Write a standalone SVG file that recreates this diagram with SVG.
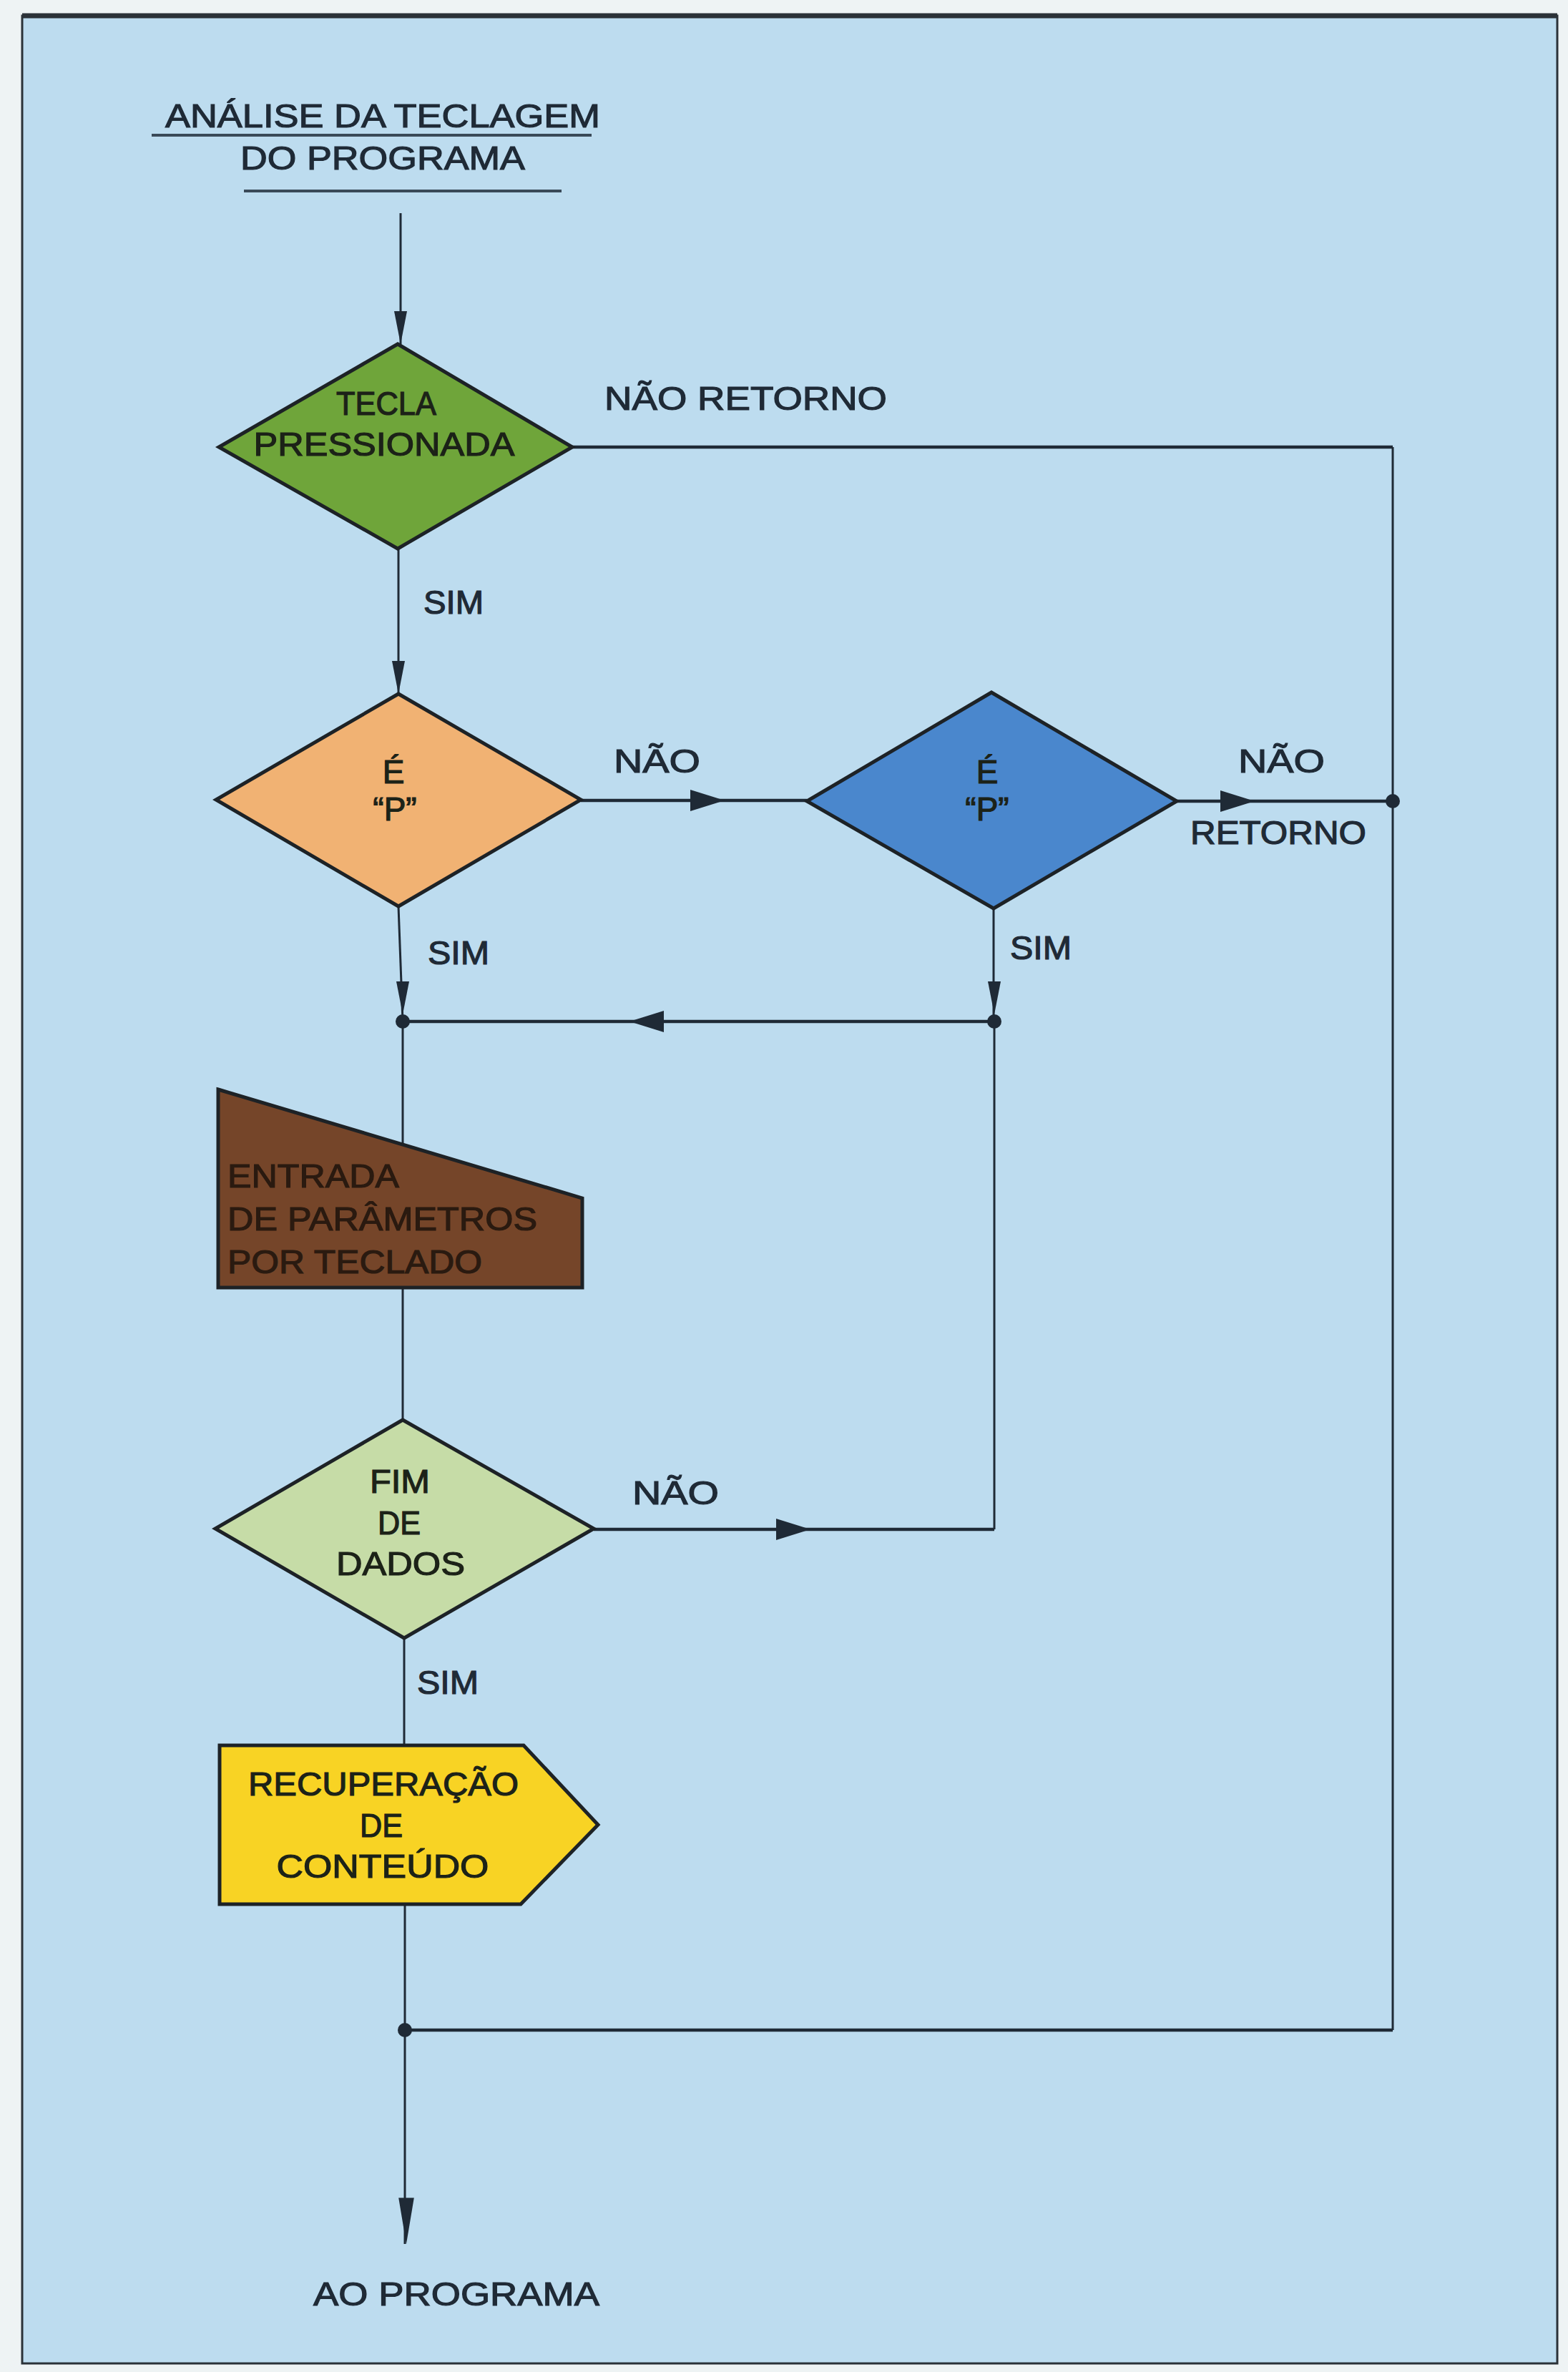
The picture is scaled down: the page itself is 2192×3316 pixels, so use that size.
<svg xmlns="http://www.w3.org/2000/svg" width="2192" height="3316" viewBox="0 0 2192 3316">
<style>
.t{font-family:"Liberation Sans",Arial,sans-serif;font-size:46px;fill:#1f2a36;stroke:#1f2a36;stroke-width:1.2}
.n{font-family:"Liberation Sans",Arial,sans-serif;font-size:46px;fill:#1c2218;stroke:#1c2218;stroke-width:1.2}
.b{fill:#2a1a10;stroke:#2a1a10}
.c{text-anchor:middle}
.shape{stroke:#1d2226;stroke-width:5;stroke-linejoin:miter}
.v{stroke:#1f2a36;stroke-width:3;fill:none}
.h{stroke:#1f2a36;stroke-width:4.5;fill:none}
.u{stroke:#3a4a58;stroke-width:4;fill:none}
.ar{fill:#1f2a36}
</style>
<defs>
<path id="ah" d="M0,0 L-48,-15 L-48,15 Z"/>
<path id="av" d="M0,0 L-46,-9 L-46,9 Z"/>
<circle id="dot" r="10"/>
</defs>
<rect x="0" y="0" width="2192" height="3316" fill="#eef3f4"/>
<rect id="frame" x="31" y="22" width="2146" height="3282" fill="#bddcef" stroke="#2b3238" stroke-width="3"/>
<line x1="31" y1="22" x2="2177" y2="22" stroke="#2b3238" stroke-width="7"/>

<g id="title">
<text class="t" x="231" y="178" textLength="608" lengthAdjust="spacingAndGlyphs" font-size="44">ANÁLISE DA TECLAGEM</text>
<text class="t" x="336" y="237" textLength="398" lengthAdjust="spacingAndGlyphs" font-size="44">DO PROGRAMA</text>
<path class="u" d="M212,189 H827 M341,267 H785"/>
</g>

<g id="connectors">
<path class="v" d="M560,298 V481"/>
<use href="#av" class="ar" transform="translate(560,481) rotate(90)"/>
<path class="h" d="M800,625 H1947"/>
<path class="v" d="M1947,625 V2838"/>
<path class="v" d="M557,767 V970"/>
<use href="#av" class="ar" transform="translate(557,970) rotate(90)"/>
<path class="h" d="M812,1119 H1128"/>
<use href="#ah" class="ar" transform="translate(1013,1119)"/>
<path class="h" d="M1645,1120 H1947"/>
<use href="#ah" class="ar" transform="translate(1754,1120)"/>
<use href="#dot" class="ar" x="1947" y="1120"/>
<path class="v" d="M557,1267 L563,1428"/>
<use href="#av" class="ar" transform="translate(563,1418) rotate(90)"/>
<path class="v" d="M1389,1270 V1428"/>
<use href="#av" class="ar" transform="translate(1390,1418) rotate(90)"/>
<path class="h" d="M1390,1428 H563"/>
<use href="#ah" class="ar" transform="translate(880,1428) rotate(180)"/>
<use href="#dot" class="ar" x="563" y="1428"/>
<use href="#dot" class="ar" x="1390" y="1428"/>
<path class="v" d="M563,1428 V1600"/>
<path class="v" d="M563,1800 V1985"/>
<path class="h" d="M830,2138 H1390"/>
<path class="v" d="M1390,2138 V1428"/>
<use href="#ah" class="ar" transform="translate(1133,2138)"/>
<path class="v" d="M565,2290 V2440"/>
<path class="v" d="M566,2662 V3137"/>
<path class="h" d="M1947,2838 H566"/>
<use href="#dot" class="ar" x="566" y="2838"/>
<use href="#av" class="ar" transform="translate(568,3137) rotate(90) scale(1.4,1.2)"/>
</g>

<g id="tecla">
<polygon class="shape" points="556,481 800,625 556,767 306,625" fill="#6fa53a"/>
<text class="n c" x="540" y="580" textLength="140" lengthAdjust="spacingAndGlyphs" font-size="48">TECLA</text>
<text class="n c" x="537" y="637" textLength="365" lengthAdjust="spacingAndGlyphs" font-size="48">PRESSIONADA</text>
</g>

<g id="ep1">
<polygon class="shape" points="557,970 812,1118 557,1267 302,1118" fill="#f1b273"/>
<text class="n c" x="550" y="1095" font-size="44">É</text>
<text class="n c" x="552" y="1147" font-size="44">“P”</text>
</g>

<g id="ep2">
<polygon class="shape" points="1386,968 1645,1120 1389,1270 1128,1120" fill="#4a87cd"/>
<text class="n c" x="1380" y="1095" font-size="44">É</text>
<text class="n c" x="1380" y="1147" font-size="44">“P”</text>
</g>

<g id="entrada">
<polygon class="shape" points="305,1523 814,1675 814,1800 305,1800" fill="#754529"/>
<text class="n b" x="318" y="1660" textLength="240" lengthAdjust="spacingAndGlyphs" font-size="45">ENTRADA</text>
<text class="n b" x="318" y="1720" textLength="433" lengthAdjust="spacingAndGlyphs" font-size="45">DE PARÂMETROS</text>
<text class="n b" x="318" y="1780" textLength="356" lengthAdjust="spacingAndGlyphs" font-size="45">POR TECLADO</text>
</g>

<g id="fim">
<polygon class="shape" points="563,1985 830,2137 565,2290 301,2137" fill="#c6dca7"/>
<text class="n c" x="559" y="2087" textLength="84" lengthAdjust="spacingAndGlyphs" font-size="44">FIM</text>
<text class="n c" x="558" y="2145" textLength="60" lengthAdjust="spacingAndGlyphs" font-size="44">DE</text>
<text class="n c" x="560" y="2202" textLength="180" lengthAdjust="spacingAndGlyphs" font-size="44">DADOS</text>
</g>

<g id="recuperacao">
<polygon class="shape" points="307,2440 732,2440 836,2551 728,2662 307,2662" fill="#f8d324"/>
<text class="n c" x="536" y="2510" textLength="378" lengthAdjust="spacingAndGlyphs" font-size="45">RECUPERAÇÃO</text>
<text class="n c" x="533" y="2568" textLength="60" lengthAdjust="spacingAndGlyphs" font-size="45">DE</text>
<text class="n c" x="535" y="2625" textLength="297" lengthAdjust="spacingAndGlyphs" font-size="45">CONTEÚDO</text>
</g>

<g id="labels">
<text class="t" x="845" y="573" textLength="395" lengthAdjust="spacingAndGlyphs" font-size="48">NÃO RETORNO</text>
<text class="t" x="592" y="858" textLength="84" lengthAdjust="spacingAndGlyphs" font-size="46">SIM</text>
<text class="t" x="858" y="1080" textLength="121" lengthAdjust="spacingAndGlyphs" font-size="46">NÃO</text>
<text class="t" x="1731" y="1080" textLength="121" lengthAdjust="spacingAndGlyphs" font-size="46">NÃO</text>
<text class="t" x="1664" y="1180" textLength="246" lengthAdjust="spacingAndGlyphs" font-size="46">RETORNO</text>
<text class="t" x="598" y="1348" textLength="86" lengthAdjust="spacingAndGlyphs" font-size="46">SIM</text>
<text class="t" x="1412" y="1341" textLength="86" lengthAdjust="spacingAndGlyphs" font-size="46">SIM</text>
<text class="t" x="884" y="2103" textLength="121" lengthAdjust="spacingAndGlyphs" font-size="46">NÃO</text>
<text class="t" x="583" y="2368" textLength="86" lengthAdjust="spacingAndGlyphs" font-size="46">SIM</text>
<text class="t" x="438" y="3223" textLength="400" lengthAdjust="spacingAndGlyphs" font-size="48">AO PROGRAMA</text>
</g>
</svg>
